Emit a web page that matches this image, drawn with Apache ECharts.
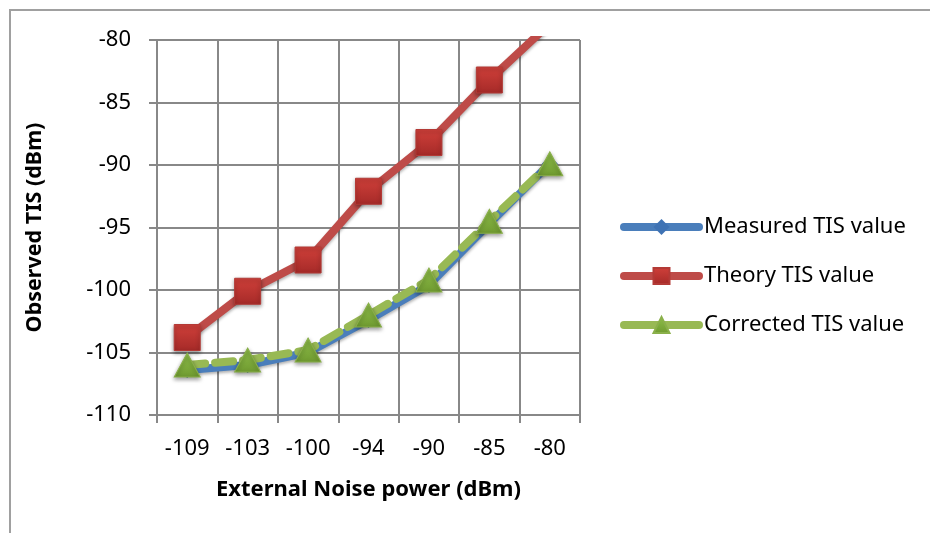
<!DOCTYPE html>
<html>
<head>
<meta charset="utf-8">
<script src="https://cdn.jsdelivr.net/npm/echarts@6/dist/echarts.min.js"></script>
<style>
html,body{margin:0;padding:0;background:#fff;}
#frame{position:absolute;left:9px;top:9px;width:940px;height:540px;border-left:2px solid #a0a0a0;border-top:2px solid #a0a0a0;}
#main{position:absolute;left:0;top:0;width:930px;height:533px;}
</style>
</head>
<body>
<div id="frame"></div>
<div id="main"></div>
<script>
const categories = ['-109', '-103', '-100', '-94', '-90', '-85', '-80'];
const measured = [-106.4, -106.0, -105.0, -102.4, -99.6, -94.7, -89.9];
const theory = [-103.8, -100.1, -97.6, -92.1, -88.2, -83.2, -78.7];
const corrected = [-106.0, -105.6, -104.8, -102.0, -99.2, -94.5, -89.9];
const yTicks = { min: -110, max: -80, interval: 5 };

const FONT = 'Noto Sans';
const chart = echarts.init(document.getElementById('main'), null, { renderer: 'canvas' });

function grad(top, bottom) {
  return new echarts.graphic.LinearGradient(0, 0, 0, 1, [
    { offset: 0, color: top }, { offset: 1, color: bottom }
  ]);
}

chart.setOption({
  backgroundColor: 'transparent',
  animation: false,
  textStyle: { fontFamily: FONT },
  grid: { left: 157, right: 350, top: 40, bottom: 118, containLabel: false },
  legend: {
    orient: 'vertical',
    left: 615,
    top: 211,
    itemWidth: 75,
    itemHeight: 20,
    itemGap: 27,
    lineStyle: { width: 8, type: 'solid', cap: 'round' },
    textStyle: { fontFamily: FONT, fontSize: 22, color: '#000' },
    data: ['Measured TIS value', 'Theory TIS value', 'Corrected TIS value']
  },
  xAxis: {
    type: 'category',
    data: categories,
    boundaryGap: true,
    name: 'External Noise power (dBm)',
    nameLocation: 'middle',
    nameGap: 64,
    nameTextStyle: { fontFamily: FONT, fontSize: 22, fontWeight: 'bold', color: '#000' },
    axisLine: { lineStyle: { color: '#888', width: 2 } },
    axisTick: { show: true, length: 8, lineStyle: { color: '#888', width: 2 }, alignWithLabel: false },
    axisLabel: { fontFamily: FONT, fontSize: 22, color: '#000', margin: 23 },
    splitLine: { show: true, lineStyle: { color: '#888', width: 2 } }
  },
  yAxis: {
    type: 'value',
    min: yTicks.min,
    max: yTicks.max,
    interval: yTicks.interval,
    name: 'Observed TIS (dBm)',
    nameLocation: 'middle',
    nameGap: 111,
    nameRotate: 90,
    nameTextStyle: { fontFamily: FONT, fontSize: 21.5, fontWeight: 'bold', color: '#000' },
    axisLine: { show: true, lineStyle: { color: '#888', width: 2 } },
    axisTick: { show: true, length: 8, lineStyle: { color: '#888', width: 2 } },
    axisLabel: { fontFamily: FONT, fontSize: 22, color: '#000', margin: 26 },
    splitLine: { show: true, lineStyle: { color: '#888', width: 2 } }
  },
  series: [
    {
      name: 'Measured TIS value',
      type: 'line',
      data: measured,
      symbol: 'diamond',
      symbolSize: 16,
      clip: true,
      lineStyle: { color: '#4A7EBB', width: 8, cap: 'round', join: 'round', shadowBlur: 3, shadowColor: 'rgba(0,0,0,0.3)', shadowOffsetY: 2 },
      itemStyle: { color: '#3F73B4', borderWidth: 0 },
      z: 2
    },
    {
      name: 'Theory TIS value',
      type: 'line',
      data: theory,
      symbol: 'rect',
      symbolSize: 26,
      clip: true,
      lineStyle: { color: '#BE4B48', width: 8, cap: 'round', join: 'round', shadowBlur: 3, shadowColor: 'rgba(0,0,0,0.3)', shadowOffsetY: 2 },
      itemStyle: { color: grad('#D0403A', '#A52A28'), borderColor: '#B33A36', borderWidth: 1, shadowBlur: 4, shadowColor: 'rgba(0,0,0,0.4)', shadowOffsetY: 2 },
      z: 3
    },
    {
      name: 'Corrected TIS value',
      type: 'line',
      data: corrected,
      symbol: 'triangle',
      symbolSize: [26, 24],
      clip: true,
      lineStyle: { color: '#98B954', width: 8, type: [18, 10], cap: 'round' },
      itemStyle: { color: grad('#8FBF4A', '#6F9A30'), borderColor: '#8AB04A', borderWidth: 1, shadowBlur: 4, shadowColor: 'rgba(0,0,0,0.4)', shadowOffsetY: 2 },
      z: 4
    }
  ]
});
</script>
</body>
</html>
